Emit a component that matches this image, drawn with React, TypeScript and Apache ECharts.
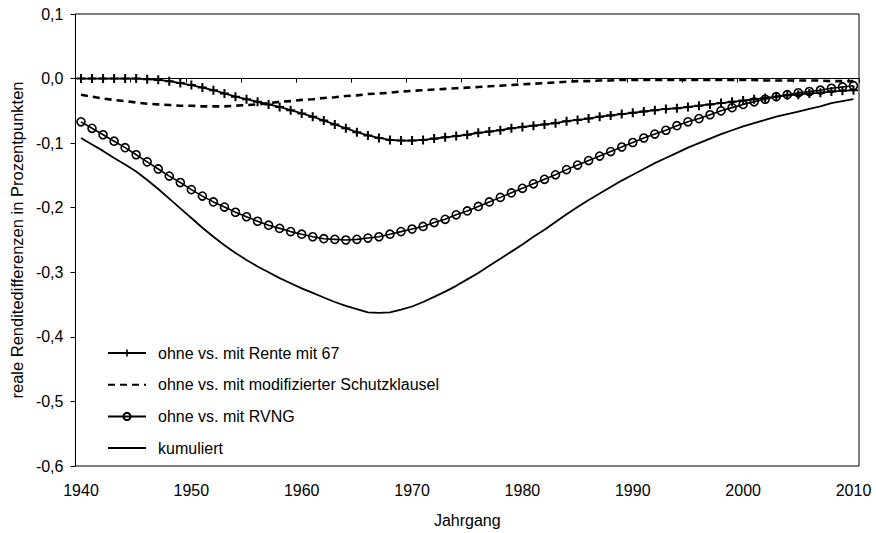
import React, { useEffect, useRef } from "react";
import * as echarts from "echarts";

const years: string[] = [];
for (let y = 1940; y <= 2010; y++) years.push(String(y));

const renteMit67 = [
  0, 0, 0, 0, 0, 0, -0.001, -0.002, -0.004, -0.007,
  -0.010, -0.014, -0.018, -0.023, -0.028, -0.032, -0.036, -0.040, -0.044, -0.049,
  -0.054, -0.059, -0.065, -0.071, -0.077, -0.083, -0.088, -0.092, -0.095, -0.096,
  -0.096, -0.095, -0.093, -0.091, -0.089, -0.087, -0.084, -0.082, -0.080, -0.077,
  -0.075, -0.073, -0.071, -0.069, -0.066, -0.064, -0.062, -0.059, -0.057, -0.055,
  -0.053, -0.051, -0.049, -0.047, -0.046, -0.044, -0.042, -0.040, -0.038, -0.036,
  -0.034, -0.032, -0.030, -0.028, -0.026, -0.025, -0.023, -0.022, -0.020, -0.019,
  -0.018,
];

const schutzklausel = [
  -0.025, -0.028, -0.031, -0.033, -0.035, -0.037, -0.039, -0.040, -0.041, -0.042,
  -0.042, -0.043, -0.043, -0.043, -0.042, -0.041, -0.040, -0.038, -0.036, -0.035,
  -0.033, -0.032, -0.030, -0.029, -0.027, -0.026, -0.024, -0.023, -0.022, -0.020,
  -0.019, -0.018, -0.017, -0.016, -0.015, -0.014, -0.013, -0.012, -0.011, -0.010,
  -0.009, -0.008, -0.007, -0.006, -0.005, -0.004, -0.004, -0.003, -0.003, -0.002,
  -0.002, -0.002, -0.002, -0.002, -0.002, -0.002, -0.002, -0.002, -0.002, -0.002,
  -0.002, -0.002, -0.003, -0.003, -0.003, -0.003, -0.003, -0.003, -0.004, -0.004,
  -0.004,
];

const rvng = [
  -0.067, -0.077, -0.087, -0.097, -0.107, -0.118, -0.129, -0.140, -0.151, -0.161,
  -0.172, -0.182, -0.191, -0.199, -0.207, -0.214, -0.221, -0.227, -0.232, -0.237,
  -0.241, -0.245, -0.248, -0.249, -0.250, -0.249, -0.247, -0.245, -0.241, -0.237,
  -0.233, -0.229, -0.223, -0.218, -0.211, -0.205, -0.198, -0.191, -0.184, -0.177,
  -0.170, -0.163, -0.156, -0.149, -0.141, -0.134, -0.127, -0.120, -0.113, -0.106,
  -0.099, -0.092, -0.086, -0.080, -0.073, -0.067, -0.062, -0.056, -0.050, -0.045,
  -0.040, -0.036, -0.032, -0.028, -0.025, -0.022, -0.020, -0.018, -0.015, -0.013,
  -0.011,
];

const kumuliert = [
  -0.092, -0.102, -0.112, -0.123, -0.133, -0.144, -0.157, -0.171, -0.186, -0.201,
  -0.216, -0.231, -0.245, -0.258, -0.270, -0.281, -0.291, -0.300, -0.309, -0.317,
  -0.325, -0.332, -0.339, -0.346, -0.352, -0.357, -0.362, -0.363, -0.362, -0.358,
  -0.353, -0.346, -0.338, -0.330, -0.321, -0.311, -0.301, -0.290, -0.279, -0.268,
  -0.257, -0.245, -0.234, -0.222, -0.210, -0.199, -0.188, -0.178, -0.168, -0.158,
  -0.149, -0.140, -0.131, -0.123, -0.115, -0.107, -0.100, -0.093, -0.086, -0.080,
  -0.074, -0.069, -0.064, -0.059, -0.055, -0.051, -0.047, -0.043, -0.038, -0.035,
  -0.032,
];

const seriesNames = [
  "ohne vs. mit Rente mit 67",
  "ohne vs. mit modifizierter Schutzklausel",
  "ohne vs. mit RVNG",
  "kumuliert",
];

const FONT = 'Arial, "Liberation Sans", sans-serif';
const PLUS = "path://M3.1,0h1.8v3.1h3.1v1.8h-3.1v3.1h-1.8v-3.1h-3.1v-1.8h3.1z";
const CLEAR = "rgba(0,0,0,0)";

export default function App() {
  const ref = useRef<HTMLDivElement>(null);
  useEffect(() => {
    if (!ref.current) return;
    const chart = echarts.init(ref.current, null, { renderer: "svg" });
    chart.setOption({
      animation: false,
      backgroundColor: "#fff",
      textStyle: { fontFamily: FONT, color: "#000" },
      grid: {
        left: 72,
        right: 17,
        top: 14,
        bottom: 67,
        show: true,
        borderColor: "#000",
        borderWidth: 1,
        backgroundColor: "transparent",
      },
      legend: {
        orient: "vertical",
        left: 102,
        top: 340,
        itemWidth: 38,
        itemHeight: 9,
        itemGap: 15.7,
        textStyle: {
          fontFamily: FONT,
          fontSize: 16,
          lineHeight: 16,
          color: "#000",
          padding: [0, 0, 0, 7],
        },
        data: seriesNames,
      },
      xAxis: [
        {
          type: "category",
          data: years,
          boundaryGap: true,
          position: "bottom",
          axisLine: { show: true, onZero: true, lineStyle: { color: "#000", width: 1 } },
          axisTick: { show: true, interval: 4, length: 4, inside: false, lineStyle: { color: "#000" } },
          axisLabel: { show: false },
          splitLine: { show: false },
        },
        {
          type: "category",
          data: years,
          boundaryGap: true,
          position: "bottom",
          axisLine: { show: false, onZero: false },
          axisTick: { show: false },
          axisLabel: {
            interval: 9,
            fontSize: 16,
            margin: 16,
            color: "#000",
            fontFamily: FONT,
          },
          splitLine: { show: false },
          name: "Jahrgang",
          nameLocation: "middle",
          nameGap: 46,
          nameTextStyle: { fontSize: 16, color: "#000", fontFamily: FONT },
        },
      ],
      yAxis: {
        type: "value",
        min: -0.6,
        max: 0.1,
        interval: 0.1,
        axisLine: { show: true, lineStyle: { color: "#000", width: 1 } },
        axisTick: { show: true, length: 5, inside: false, lineStyle: { color: "#000" } },
        splitLine: { show: false },
        axisLabel: {
          fontSize: 16,
          margin: 12,
          color: "#000",
          fontFamily: FONT,
          formatter: (v: number) => v.toFixed(1).replace(".", ","),
        },
        name: "reale Renditedifferenzen in Prozentpunkten",
        nameLocation: "middle",
        nameGap: 49,
        nameTextStyle: { fontSize: 16.5, color: "#000", fontFamily: FONT },
      },
      series: [
        {
          name: seriesNames[0],
          type: "line",
          data: renteMit67,
          xAxisIndex: 0,
          symbol: PLUS,
          symbolSize: 9,
          showAllSymbol: true,
          lineStyle: { color: "#000", width: 1.8 },
          itemStyle: { color: "#000" },
        },
        {
          name: seriesNames[1],
          type: "line",
          data: schutzklausel,
          xAxisIndex: 0,
          symbol: "none",
          lineStyle: { color: "#000", width: 2.6, type: [7, 5] },
          itemStyle: { color: CLEAR, borderWidth: 0 },
        },
        {
          name: seriesNames[2],
          type: "line",
          data: rvng,
          xAxisIndex: 0,
          symbol: "circle",
          symbolSize: 8,
          showAllSymbol: true,
          lineStyle: { color: "#000", width: 1.6 },
          itemStyle: { color: CLEAR, borderColor: "#000", borderWidth: 1.6 },
        },
        {
          name: seriesNames[3],
          type: "line",
          data: kumuliert,
          xAxisIndex: 0,
          symbol: "none",
          lineStyle: { color: "#000", width: 1.8 },
          itemStyle: { color: CLEAR, borderWidth: 0 },
        },
      ],
    });
    return () => chart.dispose();
  }, []);
  return (
    <div
      ref={ref}
      style={{ position: "fixed", left: 0, top: 0, width: 876, height: 533, background: "#fff" }}
    />
  );
}
